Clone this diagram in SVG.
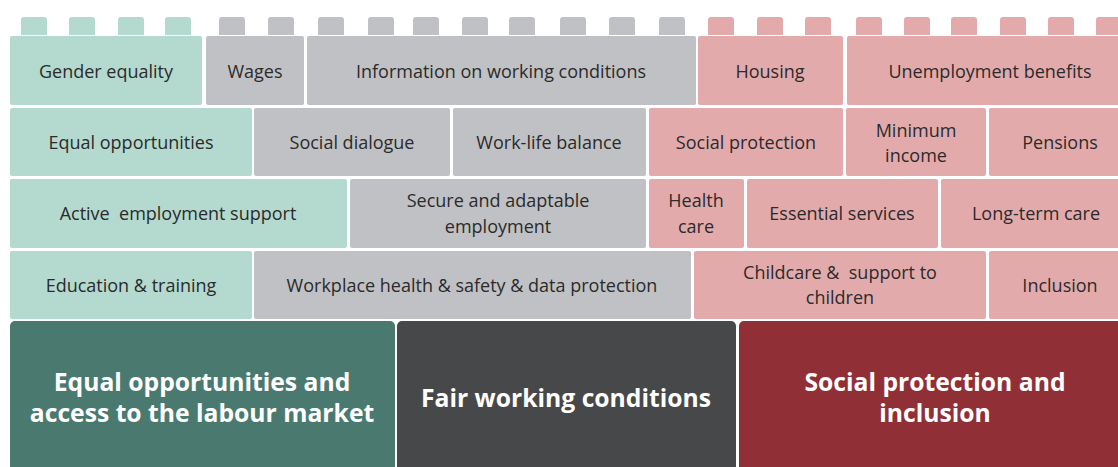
<svg xmlns="http://www.w3.org/2000/svg" width="1118" height="467" viewBox="0 0 1118 467">
<style>
.g{fill:#b4d9cf}.s{fill:#c0c1c4}.p{fill:#e3aaab}
.t{font-family:"Open Sans","Liberation Sans",sans-serif;font-size:18px;fill:#2b2b2b;text-anchor:middle;white-space:pre}
.b{font-family:"Open Sans","Liberation Sans",sans-serif;font-size:24.7px;font-weight:bold;fill:#ffffff;text-anchor:middle}
</style>
<defs>
<path id="stud" d="M0,35 V20 a3,3 0 0 1 3,-3 H23 a3,3 0 0 1 3,3 V35 Z"/>
</defs>
<g id="studs">
<use href="#stud" x="21" class="g"/><use href="#stud" x="69" class="g"/><use href="#stud" x="118" class="g"/><use href="#stud" x="165" class="g"/>
<use href="#stud" x="219" class="s"/><use href="#stud" x="268" class="s"/><use href="#stud" x="318" class="s"/><use href="#stud" x="368" class="s"/><use href="#stud" x="413" class="s"/><use href="#stud" x="462" class="s"/><use href="#stud" x="509" class="s"/><use href="#stud" x="560" class="s"/><use href="#stud" x="609" class="s"/><use href="#stud" x="659" class="s"/>
<use href="#stud" x="708" class="p"/><use href="#stud" x="757" class="p"/><use href="#stud" x="805" class="p"/><use href="#stud" x="856" class="p"/><use href="#stud" x="904" class="p"/><use href="#stud" x="951" class="p"/><use href="#stud" x="1000" class="p"/><use href="#stud" x="1048" class="p"/><use href="#stud" x="1096" class="p"/>
</g>
<g id="n-gender"><rect class="g" x="10" y="36" width="192" height="69" rx="2"/><text class="t" x="106" y="78">Gender equality</text></g>
<g id="n-wages"><rect class="s" x="206" y="36" width="98" height="69" rx="2"/><text class="t" x="255" y="78">Wages</text></g>
<g id="n-info"><rect class="s" x="307" y="36" width="389" height="69" rx="2"/><text class="t" x="501" y="78">Information on working conditions</text></g>
<g id="n-housing"><rect class="p" x="698" y="36" width="145" height="69" rx="2"/><text class="t" x="770" y="78">Housing</text></g>
<g id="n-unemp"><rect class="p" x="847" y="36" width="290" height="69" rx="2"/><text class="t" x="990" y="78">Unemployment benefits</text></g>

<g id="n-equal"><rect class="g" x="10" y="108" width="242" height="68" rx="2"/><text class="t" x="131" y="149">Equal opportunities</text></g>
<g id="n-dialogue"><rect class="s" x="254" y="108" width="196" height="68" rx="2"/><text class="t" x="352" y="149">Social dialogue</text></g>
<g id="n-wlb"><rect class="s" x="453" y="108" width="193" height="68" rx="2"/><text class="t" x="549" y="149">Work-life balance</text></g>
<g id="n-socprot"><rect class="p" x="649" y="108" width="194" height="68" rx="2"/><text class="t" x="746" y="149">Social protection</text></g>
<g id="n-minimum"><rect class="p" x="846" y="108" width="140" height="68" rx="2"/><text class="t" x="916" y="137">Minimum</text><text class="t" x="916" y="162">income</text></g>
<g id="n-pensions"><rect class="p" x="989" y="108" width="148" height="68" rx="2"/><text class="t" x="1060" y="149">Pensions</text></g>

<g id="n-active"><rect class="g" x="10" y="179" width="337" height="69" rx="2"/><text class="t" x="178" y="220" xml:space="preserve">Active  employment support</text></g>
<g id="n-secure"><rect class="s" x="350" y="179" width="296" height="69" rx="2"/><text class="t" x="498" y="207">Secure and adaptable</text><text class="t" x="498" y="233">employment</text></g>
<g id="n-health"><rect class="p" x="649" y="179" width="95" height="69" rx="2"/><text class="t" x="696" y="207">Health</text><text class="t" x="696" y="233">care</text></g>
<g id="n-essential"><rect class="p" x="747" y="179" width="191" height="69" rx="2"/><text class="t" x="842" y="220">Essential services</text></g>
<g id="n-ltc"><rect class="p" x="941" y="179" width="196" height="69" rx="2"/><text class="t" x="1036" y="220">Long-term care</text></g>

<g id="n-edu"><rect class="g" x="10" y="251" width="242" height="68" rx="2"/><text class="t" x="131" y="292">Education &amp; training</text></g>
<g id="n-workplace"><rect class="s" x="254" y="251" width="437" height="68" rx="2"/><text class="t" x="472" y="292">Workplace health &amp; safety &amp; data protection</text></g>
<g id="n-childcare"><rect class="p" x="694" y="251" width="292" height="68" rx="2"/><text class="t" x="840" y="279" xml:space="preserve">Childcare &amp;  support to</text><text class="t" x="840" y="304">children</text></g>
<g id="n-inclusion"><rect class="p" x="989" y="251" width="148" height="68" rx="2"/><text class="t" x="1060" y="292">Inclusion</text></g>

<g id="n-pillar1"><rect x="10" y="321" width="385" height="160" rx="5" fill="#4a7a6f"/><text class="b" x="202" y="391">Equal opportunities and</text><text class="b" x="202" y="422">access to the labour market</text></g>
<g id="n-pillar2"><rect x="397" y="321" width="339" height="160" rx="5" fill="#47484a"/><text class="b" x="566" y="407">Fair working conditions</text></g>
<g id="n-pillar3"><rect x="739" y="321" width="400" height="160" rx="5" fill="#903036"/><text class="b" x="935" y="391">Social protection and</text><text class="b" x="935" y="422">inclusion</text></g>
<g id="connectors"/>
</svg>
